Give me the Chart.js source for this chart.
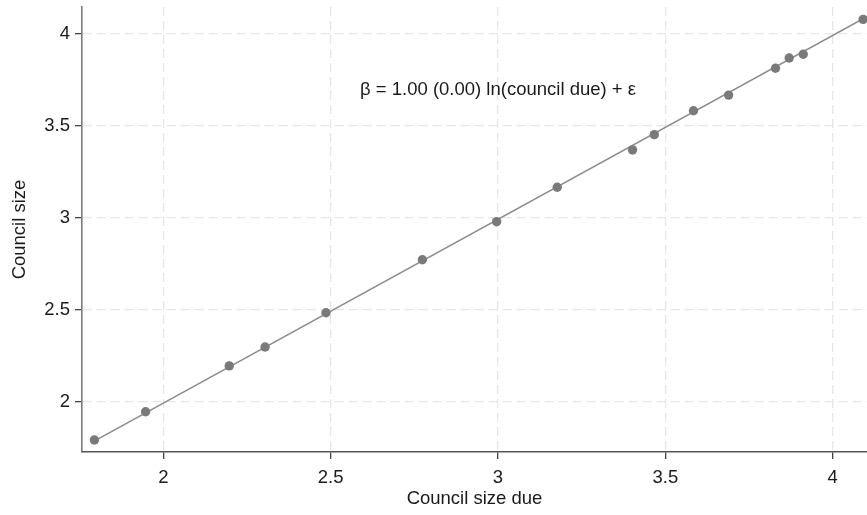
<!DOCTYPE html>
<html>
<head>
<meta charset="utf-8">
<script src="https://cdn.jsdelivr.net/npm/chart.js@4.4.1/dist/chart.umd.min.js"></script>
<style>
  html, body { margin: 0; padding: 0; background: #fff; }
  #wrap { width: 867px; height: 515px; position: relative; }
</style>
</head>
<body>
<div id="wrap"><canvas id="councilChart"></canvas></div>
<script>
// ln(council size due) vs ln(council size)
const sizeDue = [1.794, 1.947, 2.197, 2.304, 2.486, 2.774, 2.996, 3.177, 3.402, 3.467, 3.584, 3.689, 3.829, 3.870, 3.912, 4.091];
const sizeActual = [1.793, 1.947, 2.196, 2.299, 2.485, 2.773, 2.980, 3.167, 3.370, 3.453, 3.583, 3.668, 3.814, 3.870, 3.890, 4.080];

// fitted line end points
const fitX = [1.792, 4.102];
const fitY = [1.786, 4.094];

const xTicks = [2, 2.5, 3, 3.5, 4];
const yTicks = [2, 2.5, 3, 3.5, 4];

const noteText = "\u03b2 = 1.00 (0.00) ln(council due) + \u03b5";
const noteAt = [3.0, 3.696];

const FONT = "'Liberation Sans', Arial, sans-serif";
const TEXT = "#1a1a1a";
const FSIZE = 18.5;

// draws the regression text inside the plot
const notePlugin = {
  id: "note",
  afterDatasetsDraw(chart) {
    const ctx = chart.ctx;
    const px = chart.scales.x.getPixelForValue(noteAt[0]);
    const py = chart.scales.y.getPixelForValue(noteAt[1]);
    ctx.save();
    ctx.font = FSIZE + "px " + FONT;
    ctx.fillStyle = TEXT;
    ctx.textAlign = "center";
    ctx.textBaseline = "middle";
    ctx.fillText(noteText, px, py);
    ctx.restore();
  }
};

// no extra room for edge labels, the plot goes to the canvas edge
function noPadding(scale) {
  scale.paddingTop = 0;
  scale.paddingBottom = 0;
  scale.paddingLeft = 0;
  scale.paddingRight = 0;
}

const ctx = document.getElementById("councilChart").getContext("2d");
const councilChart = new Chart(ctx, {
  type: "scatter",
  data: {
    datasets: [
      {
        type: "line",
        data: fitX.map((x, i) => ({ x: x, y: fitY[i] })),
        borderColor: "#8c8c8c",
        borderWidth: 1.6,
        pointRadius: 0,
        fill: false,
        order: 2,
      },
      {
        data: sizeDue.map((x, i) => ({ x: x, y: sizeActual[i] })),
        backgroundColor: "#7a7a7a",
        borderColor: "#7a7a7a",
        pointRadius: 4.7,
        pointBorderWidth: 0,
        clip: false,
        order: 1,
      },
    ],
  },
  options: {
    responsive: true,
    maintainAspectRatio: false,
    animation: false,
    layout: { autoPadding: false, padding: { top: 7, right: 0, left: 0, bottom: 0 } },
    plugins: {
      legend: { display: false },
      tooltip: { enabled: false },
    },
    scales: {
      x: {
        type: "linear",
        min: 1.757,
        max: 4.1025,
        afterBuildTicks: (scale) => { scale.ticks = xTicks.map((v) => ({ value: v })); },
        afterFit: (scale) => { scale.height = 63; noPadding(scale); },
        grid: {
          color: "#e6e6e6",
          lineWidth: 1.3,
          tickLength: 7,
          tickColor: "#444",
          tickWidth: 1.3,
          tickBorderDash: [],
        },
        border: { display: true, color: "#555", width: 1.6, dash: [9, 5] },
        ticks: {
          color: TEXT,
          font: { family: FONT, size: FSIZE },
          padding: 8,
          maxRotation: 0,
          callback: (v) => String(v),
        },
        title: {
          display: true,
          text: "Council size due",
          color: TEXT,
          font: { family: FONT, size: FSIZE },
          padding: { top: 0, bottom: 5 },
        },
      },
      y: {
        type: "linear",
        min: 1.728,
        max: 4.147,
        afterBuildTicks: (scale) => { scale.ticks = yTicks.map((v) => ({ value: v })); },
        afterFit: (scale) => { scale.width = 82; noPadding(scale); },
        grid: {
          color: "#e6e6e6",
          lineWidth: 1.3,
          tickLength: 7,
          tickColor: "#444",
          tickWidth: 1.3,
          tickBorderDash: [],
        },
        border: { display: true, color: "#7a7a7a", width: 1.6, dash: [9, 5] },
        ticks: {
          color: TEXT,
          font: { family: FONT, size: FSIZE },
          padding: 5,
          callback: (v) => String(v),
        },
        title: {
          display: true,
          text: "Council size",
          color: TEXT,
          font: { family: FONT, size: FSIZE },
          padding: { top: 9, bottom: 0 },
        },
      },
    },
  },
  plugins: [notePlugin],
});
</script>
</body>
</html>
